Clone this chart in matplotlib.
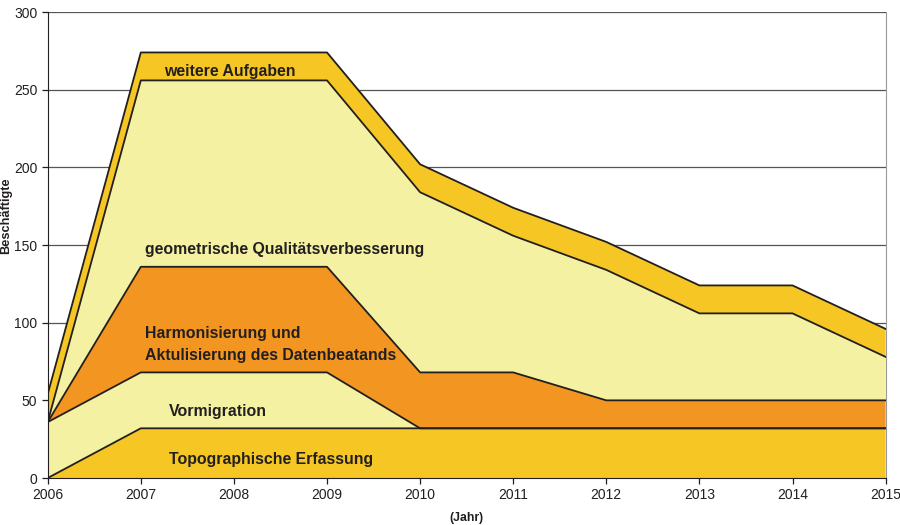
import numpy as np
import matplotlib
matplotlib.use("Agg")
from matplotlib import pyplot as plt

plt.rcParams['font.family'] = ['Liberation Sans', 'DejaVu Sans']

years = [2006, 2007, 2008, 2009, 2010, 2011, 2012, 2013, 2014, 2015]
topo = [0, 32, 32, 32, 32, 32, 32, 32, 32, 32]
vormig = [36, 36, 36, 36, 0, 0, 0, 0, 0, 0]
harmon = [0, 68, 68, 68, 36, 36, 18, 18, 18, 18]
geom = [0, 120, 120, 120, 116, 88, 84, 56, 56, 28]
weitere = [18, 18, 18, 18, 18, 18, 18, 18, 18, 18]

layers = [topo, vormig, harmon, geom, weitere]
colors = ['#f5c624', '#f4f1a2', '#f39621', '#f4f1a2', '#f5c624']

labels = [
    ("Topographische Erfassung", 2007.3, 12),
    ("Vormigration", 2007.3, 43),
    ("Harmonisierung und\nAktulisierung des Datenbeatands", 2007.05, 86),
    ("geometrische Qualitätsverbesserung", 2007.05, 147),
    ("weitere Aufgaben", 2007.25, 262),
]

fig = plt.figure(figsize=(9, 5.25), dpi=100)
ax = fig.add_axes([0.053, 0.0895, 0.931, 0.8875])

ax.set_axisbelow(True)
ax.yaxis.grid(True, color='#555555', linewidth=0.9)

base = np.zeros(len(years))
for vals, c in zip(layers, colors):
    top = base + np.array(vals)
    ax.fill_between(years, base, top, facecolor=c, edgecolor='none', zorder=2)
    ax.plot(years, top, color='#231f20', linewidth=1.3, zorder=3)
    base = top

for txt, x, y in labels:
    ax.text(x, y, txt, fontsize=11.4, fontweight='bold', color='#231f20',
            va='center', ha='left', zorder=4, linespacing=1.55)

ax.set_xlim(2006, 2015)
ax.set_ylim(0, 300)
ax.set_xticks(years)
ax.set_yticks(range(0, 301, 50))
ax.tick_params(labelsize=10, colors='#231f20', length=4, width=0.9)
ax.spines['top'].set_visible(False)
ax.spines['right'].set_color('#999999')
ax.spines['left'].set_color('#231f20')
ax.spines['bottom'].set_color('#231f20')

ax.set_ylabel("Beschäftigte", fontsize=9.2, fontweight='bold', color='#231f20')
ax.yaxis.set_label_coords(-0.043, 0.563)
ax.set_xlabel("(Jahr)", fontsize=8.8, fontweight='bold', color='#231f20', labelpad=7)

plt.savefig("out.png", dpi=100)
